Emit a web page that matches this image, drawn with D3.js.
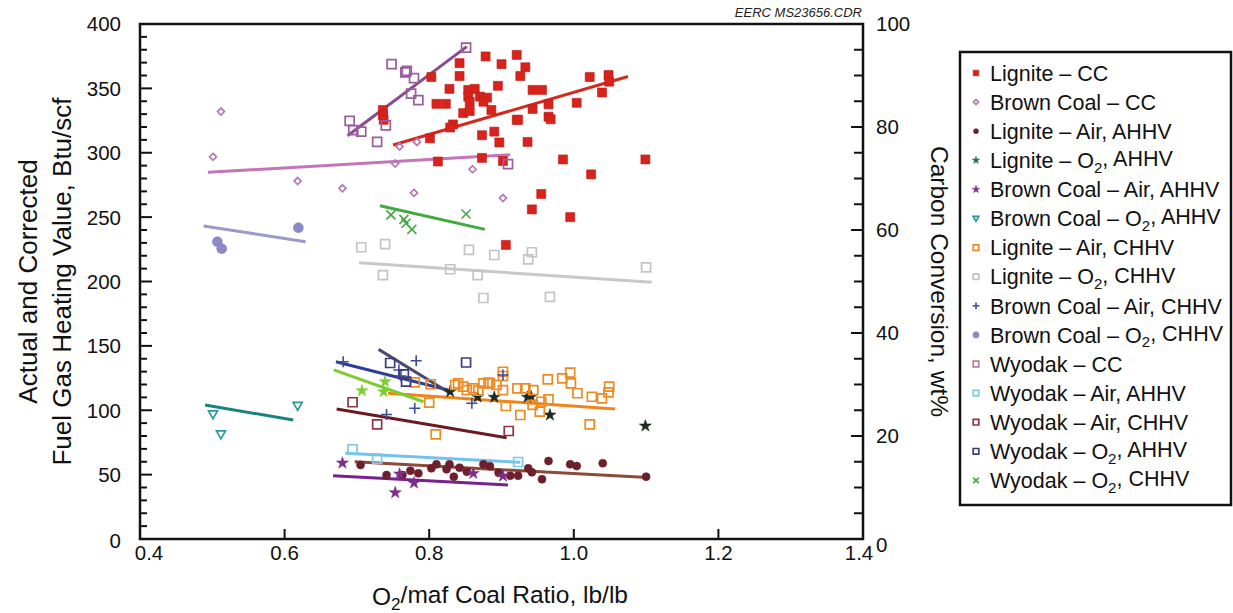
<!DOCTYPE html>
<html>
<head>
<meta charset="utf-8">
<script src="https://cdn.jsdelivr.net/npm/d3@7"></script>
<style>
  body { margin: 0; background: #fff; }
  svg { font-family: "Liberation Sans", Arial, sans-serif; }
</style>
</head>
<body>
<svg id="chart" width="1233" height="613"></svg>
<script>
// ---- data (x = O2/maf coal ratio; y = Btu/scf or wt% for CC series) ----
const ligniteCC = [[0.878,93.7],[0.900,92.2],[0.842,92.4],[0.842,89.9],[0.803,89.7],[0.895,88.0],[0.828,87.4],
  [0.854,87.2],[0.863,87.4],[0.854,85.9],[0.856,84.9],[0.870,85.9],[0.880,85.7],[0.875,84.9],[0.810,84.5],
  [0.823,84.5],[0.886,83.3],[0.847,82.7],[0.856,83.1],[0.921,81.4],[0.833,80.5],[0.829,79.9],[0.736,83.3],
  [0.736,82.3],[0.737,81.4],[0.801,77.8],[0.873,78.4],[0.890,79.1],[0.897,77.0],[0.812,73.3],[0.873,74.0],
  [0.902,73.4],[0.906,57.1],[0.933,91.6],[0.926,89.9],[0.943,87.2],[0.956,87.2],[1.022,89.7],[1.048,90.1],
  [1.049,88.8],[1.039,86.7],[1.004,84.7],[0.965,84.4],[0.943,83.5],[0.923,81.4],[0.965,82.0],[0.968,81.5],
  [0.936,77.1],[0.985,73.7],[1.099,73.7],[0.955,67.0],[0.942,64.0],[0.995,62.5],[1.024,70.8],[0.921,94.0]];
const ligniteCCFit = [0.750, 76.5, 1.075, 89.8];

const brownCoalCC = [[0.512,83.0],[0.501,74.2],[0.618,69.5],[0.680,68.1],[0.779,67.2],[0.860,71.8],
  [0.902,66.2],[0.753,72.9],[0.759,76.2],[0.783,77.1]];
const brownCoalCCFit = [0.494, 71.2, 0.912, 74.6];

const ligniteAirAHHV = [[0.705,57.5],[0.741,49.7],[0.763,49.7],[0.774,53.0],[0.785,51.0],[0.803,54.9],
  [0.810,58.0],[0.824,54.1],[0.828,58.0],[0.834,48.4],[0.842,55.4],[0.852,52.3],[0.875,58.0],[0.884,56.6],
  [0.896,51.5],[0.912,49.2],[0.923,49.2],[0.937,54.9],[0.942,51.8],[0.956,46.4],[0.965,60.6],[0.995,58.0],
  [1.004,56.7],[1.040,58.8],[1.100,48.4]];
const ligniteAirAHHVFit = [0.697, 60.0, 1.096, 47.9];

const ligniteO2AHHV = [[0.829,114.4],[0.867,110.3],[0.890,110.1],[0.936,110.1],[0.941,110.5],[0.967,96.3],[1.099,87.8]];

const brownCoalAirAHHV = [[0.680,59.0],[0.753,36.0],[0.779,43.5],[0.759,50.5],[0.861,51.0],[0.902,48.9]];
const brownCoalAirAHHVFit = [0.667, 49.2, 0.909, 41.9];

const brownCoalO2AHHV = [[0.501,96.9],[0.512,81.3],[0.618,103.5]];
const brownCoalO2AHHVFit = [0.490, 104.1, 0.612, 92.4];

const ligniteAirCHHV = [[0.780,121.7],[0.802,120.2],[0.800,105.9],[0.809,81.3],[0.836,119.6],[0.840,120.9],
  [0.847,118.3],[0.852,115.7],[0.861,117.0],[0.868,115.2],[0.875,120.9],[0.882,121.4],[0.902,129.9],
  [0.902,126.6],[0.884,120.9],[0.893,119.6],[0.902,115.7],[0.906,103.3],[0.922,117.0],[0.933,117.0],
  [0.944,115.7],[0.926,96.3],[0.943,104.1],[0.955,106.6],[0.965,108.5],[0.953,98.9],[0.964,124.0],
  [0.984,124.8],[0.995,129.2],[0.996,120.9],[1.005,113.2],[1.025,110.5],[1.039,109.3],[1.048,113.9],
  [1.049,118.3],[1.022,89.1]];
const ligniteAirCHHVFit = [0.743, 113.2, 1.057, 101.0];

const ligniteO2CHHV = [[0.706,226.6],[0.739,229.1],[0.736,205.0],[0.855,224.5],[0.890,220.6],[0.867,205.0],
  [0.829,209.5],[0.875,187.2],[0.942,222.7],[0.937,217.2],[1.100,211.0],[0.967,188.0]];
const ligniteO2CHHVFit = [0.703, 214.6, 1.108, 199.4];

const brownCoalAirCHHV = [[0.681,137.7],[0.782,138.5],[0.758,131.3],[0.761,126.6],[0.780,101.5],
  [0.741,96.7],[0.859,105.4],[0.902,127.4]];
const brownCoalAirCHHVFit = [0.671, 137.7, 0.826, 115.7];

const brownCoalO2CHHV = [[0.507,230.9],[0.513,225.5],[0.619,241.8]];
const brownCoalO2CHHVFit = [0.488, 243.1, 0.629, 230.9];

const wyodakCC = [[0.851,95.4],[0.748,92.2],[0.767,90.6],[0.769,90.9],[0.779,89.5],[0.775,86.5],[0.785,85.2],
  [0.690,81.2],[0.695,79.4],[0.706,79.1],[0.740,80.3],[0.728,77.1],[0.909,72.8]];
const wyodakCCFit = [0.687, 78.3, 0.852, 95.6];

const wyodakAirAHHV = [[0.694,69.7],[0.728,62.5],[0.923,59.8]];
const wyodakAirAHHVFit = [0.684, 66.6, 0.926, 59.6];

const wyodakAirCHHV = [[0.694,106.2],[0.728,89.1],[0.910,83.9]];
const wyodakAirCHHVFit = [0.672, 101.0, 0.907, 78.7];

const wyodakO2AHHV = [[0.746,136.7],[0.765,127.8],[0.768,122.2],[0.851,137.1]];
const wyodakO2AHHVFit = [0.730, 147.3, 0.829, 113.2];

const wyodakO2CHHV = [[0.747,251.7],[0.765,248.3],[0.768,245.2],[0.776,240.5],[0.851,252.4]];
const wyodakO2CHHVFit = [0.732, 258.9, 0.877, 240.5];

// unlabelled light-green stars and fit seen on the plot
const extraStars = [[0.707,115.2],[0.737,114.4],[0.739,122.2]];
const extraStarsFit = [0.668, 131.3, 0.792, 106.6];

const xTicks = [0.4, 0.6, 0.8, 1.0, 1.2, 1.4];
const yLeftTicks = [0, 50, 100, 150, 200, 250, 300, 350, 400];
const yRightTicks = [0, 20, 40, 60, 80, 100];

// ---- series table ----
const series = [
  {name: "Lignite – CC", pts: ligniteCC, fit: ligniteCCFit, right: true, shape: "square", fill: "#d8221c", stroke: "#c01a14", line: "#d4281e", size: 9},
  {name: "Brown Coal – CC", pts: brownCoalCC, fit: brownCoalCCFit, right: true, shape: "diamond", fill: "none", stroke: "#b47ab0", line: "#c474b8", size: 7},
  {name: "Lignite – Air, AHHV", pts: ligniteAirAHHV, fit: ligniteAirAHHVFit, shape: "circle", fill: "#6e1f2c", stroke: "#6e1f2c", line: "#8c4a3a", size: 8},
  {name: "Lignite – O₂, AHHV", pts: ligniteO2AHHV, fit: null, shape: "star", fill: "#1c2a22", stroke: "#1c2a22", legendFill: "#2f6e45", size: 9},
  {name: "Brown Coal – Air, AHHV", pts: brownCoalAirAHHV, fit: brownCoalAirAHHVFit, shape: "star", fill: "#7c2e8a", stroke: "#7c2e8a", line: "#7a1f90", size: 9},
  {name: "Brown Coal – O₂, AHHV", pts: brownCoalO2AHHV, fit: brownCoalO2AHHVFit, shape: "tridown", fill: "none", stroke: "#2a9a9c", line: "#1a8282", size: 9},
  {name: "Lignite – Air, CHHV", pts: ligniteAirCHHV, fit: ligniteAirCHHVFit, shape: "square", fill: "none", stroke: "#ee8a22", line: "#f08418", size: 9},
  {name: "Lignite – O₂, CHHV", pts: ligniteO2CHHV, fit: ligniteO2CHHVFit, shape: "square", fill: "none", stroke: "#c4c4c4", line: "#c8c8c8", size: 9},
  {name: "Brown Coal – Air, CHHV", pts: brownCoalAirCHHV, fit: brownCoalAirCHHVFit, shape: "plus", fill: "none", stroke: "#3e4ca0", line: "#2c3f98", size: 11},
  {name: "Brown Coal – O₂, CHHV", pts: brownCoalO2CHHV, fit: brownCoalO2CHHVFit, shape: "circle", fill: "#8c8ac6", stroke: "#8c8ac6", line: "#9a98cc", size: 10},
  {name: "Wyodak – CC", pts: wyodakCC, fit: wyodakCCFit, right: true, shape: "square", fill: "none", stroke: "#9a5e9e", legendStroke: "#c07a9c", line: "#8a4a8e", size: 9},
  {name: "Wyodak – Air, AHHV", pts: wyodakAirAHHV, fit: wyodakAirAHHVFit, shape: "square", fill: "none", stroke: "#7cc8e6", line: "#72c2ee", size: 9},
  {name: "Wyodak – Air, CHHV", pts: wyodakAirCHHV, fit: wyodakAirCHHVFit, shape: "square", fill: "none", stroke: "#8c3444", line: "#6c1a22", size: 9},
  {name: "Wyodak – O₂, AHHV", pts: wyodakO2AHHV, fit: wyodakO2AHHVFit, shape: "square", fill: "none", stroke: "#3c3c7e", line: "#4a4a6c", size: 9},
  {name: "Wyodak – O₂, CHHV", pts: wyodakO2CHHV, fit: wyodakO2CHHVFit, shape: "x", fill: "none", stroke: "#44a844", line: "#40aa3c", size: 9},
  {name: null, pts: extraStars, fit: extraStarsFit, shape: "star", fill: "#7ccc34", stroke: "#7ccc34", line: "#7ccc2c", size: 9}
];

// ---- layout ----
const svg = d3.select("#chart");
const pLeft = 140, pRight = 863, pTop = 24, pBottom = 539;
const x = d3.scaleLinear().domain([0.4, 1.4]).range([pLeft, pRight]);
const yL = d3.scaleLinear().domain([0, 400]).range([pBottom, pTop]);
const yR = d3.scaleLinear().domain([0, 100]).range([pBottom, pTop]);

function markerPath(shape, s) {
  const h = s / 2;
  switch (shape) {
    case "square": return `M${-h},${-h}H${h}V${h}H${-h}Z`;
    case "diamond": return `M0,${-h}L${h},0L0,${h}L${-h},0Z`;
    case "tridown": return `M${-h},${-h * 0.75}L${h},${-h * 0.75}L0,${h}Z`;
    case "plus": return `M${-h},0H${h}M0,${-h}V${h}`;
    case "x": return `M${-h},${-h}L${h},${h}M${h},${-h}L${-h},${h}`;
    case "circle": return d3.symbol(d3.symbolCircle, Math.PI * h * h)();
    case "star": return d3.symbol(d3.symbolStar, s * s * 0.55)();
  }
}

function drawMarker(g, s, px, py, size, legend) {
  const open = s.fill === "none" || s.shape === "plus" || s.shape === "x";
  const fill = legend && s.legendFill ? s.legendFill : s.fill;
  const stroke = legend && s.legendStroke ? s.legendStroke : (legend && s.legendFill ? s.legendFill : s.stroke);
  g.append("path")
    .attr("d", markerPath(s.shape, size))
    .attr("transform", `translate(${px},${py})`)
    .attr("fill", open ? "none" : fill)
    .attr("stroke", stroke)
    .attr("stroke-width", open ? (s.shape === "plus" || s.shape === "x" ? 1.6 : 1.7) : 0.6);
}

// fit lines
const lineG = svg.append("g");
series.forEach(s => {
  if (!s.fit) return;
  const yy = s.right ? yR : yL;
  lineG.append("line")
    .attr("x1", x(s.fit[0])).attr("y1", yy(s.fit[1]))
    .attr("x2", x(s.fit[2])).attr("y2", yy(s.fit[3]))
    .attr("stroke", s.line).attr("stroke-width", 3).attr("stroke-linecap", "butt");
});

// points
const ptG = svg.append("g");
series.forEach(s => {
  const yy = s.right ? yR : yL;
  s.pts.forEach(p => drawMarker(ptG, s, x(p[0]), yy(p[1]), s.size, false));
});

// frame
svg.append("rect").attr("x", pLeft).attr("y", pTop)
  .attr("width", pRight - pLeft).attr("height", pBottom - pTop)
  .attr("fill", "none").attr("stroke", "#111").attr("stroke-width", 2.5);

// left axis ticks (minor every 10, major every 50), inward
const axG = svg.append("g").attr("stroke", "#111").attr("stroke-width", 2);
d3.range(10, 400, 10).forEach(v => {
  const len = v % 50 === 0 ? 12 : 7;
  axG.append("line").attr("x1", pLeft).attr("x2", pLeft + len).attr("y1", yL(v)).attr("y2", yL(v));
});
// right axis ticks every 5
d3.range(5, 100, 5).forEach(v => {
  const len = v % 20 === 0 ? 12 : 9;
  axG.append("line").attr("x1", pRight).attr("x2", pRight - len).attr("y1", yR(v)).attr("y2", yR(v));
});
// bottom ticks
xTicks.slice(1, -1).forEach(v => {
  axG.append("line").attr("x1", x(v)).attr("x2", x(v)).attr("y1", pBottom).attr("y2", pBottom - 10);
});

// tick labels
const tl = svg.append("g").attr("font-size", 20.5).attr("fill", "#111");
yLeftTicks.forEach(v => {
  tl.append("text").attr("x", pLeft - 19).attr("y", yL(v) + (v === 0 ? 2 : 0)).attr("dy", "0.36em")
    .attr("text-anchor", "end").text(v);
});
yRightTicks.forEach(v => {
  tl.append("text").attr("x", pRight + 13).attr("y", yR(v) + (v === 0 ? 6 : 0)).attr("dy", "0.36em")
    .attr("text-anchor", "start").text(v);
});
xTicks.forEach((v, i) => {
  const shift = i === 0 ? 9 : (i === xTicks.length - 1 ? -4 : 0);
  tl.append("text").attr("x", x(v) + shift).attr("y", pBottom + 21)
    .attr("text-anchor", "middle").text(d3.format(".1f")(v));
});

// axis titles
function subText(sel, str) {
  const parts = str.split("₂");
  parts.forEach((p, i) => {
    if (i > 0) {
      sel.append("tspan").attr("font-size", "0.7em").attr("dy", "0.3em").text("2");
      sel.append("tspan").attr("dy", "-0.3em").text(p);
    } else {
      sel.append("tspan").text(p);
    }
  });
}
const midY = (pTop + pBottom) / 2;
svg.append("text").attr("transform", `translate(37,${midY}) rotate(-90)`)
  .attr("text-anchor", "middle").attr("font-size", 26).attr("fill", "#111").text("Actual and Corrected");
svg.append("text").attr("transform", `translate(71,${midY}) rotate(-90)`)
  .attr("text-anchor", "middle").attr("font-size", 26).attr("fill", "#111").text("Fuel Gas Heating Value, Btu/scf");
svg.append("text").attr("transform", `translate(931,${midY}) rotate(90)`)
  .attr("text-anchor", "middle").attr("font-size", 24.5).attr("fill", "#111").text("Carbon Conversion, wt%");
const xt = svg.append("text").attr("x", 500).attr("y", 605)
  .attr("text-anchor", "middle").attr("font-size", 24.5).attr("fill", "#111");
subText(xt, "O₂/maf Coal Ratio, lb/lb");

svg.append("text").attr("x", 862).attr("y", 17).attr("text-anchor", "end")
  .attr("font-size", 13).attr("font-style", "italic").attr("fill", "#222").text("EERC MS23656.CDR");

// legend
const lg = svg.append("g");
lg.append("rect").attr("x", 960).attr("y", 52).attr("width", 271).attr("height", 453)
  .attr("fill", "#fff").attr("stroke", "#111").attr("stroke-width", 2.5);
series.filter(s => s.name).forEach((s, i) => {
  const cy = 73 + i * 29.1;
  drawMarker(lg, s, 976, cy, Math.max(5, s.size * 0.62), true);
  const t = lg.append("text").attr("x", 990).attr("y", cy).attr("dy", "0.36em")
    .attr("font-size", 21.5).attr("fill", "#111");
  subText(t, s.name);
});
</script>
</body>
</html>
